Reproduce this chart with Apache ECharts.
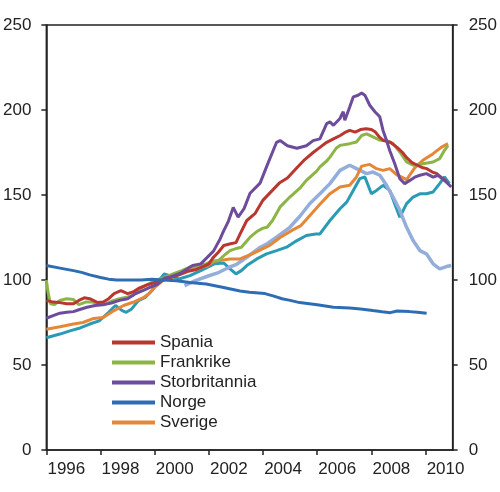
<!DOCTYPE html>
<html>
<head>
<meta charset="utf-8">
<script src="https://cdn.jsdelivr.net/npm/echarts@6/dist/echarts.min.js"></script>
<style>
html,body{margin:0;padding:0;background:#fff;}
#chart{width:500px;height:492px;}
</style>
</head>
<body>
<div id="chart"></div>
<script>
// Tick labels
const xTickYears = [1996, 1998, 2000, 2002, 2004, 2006, 2008, 2010];
const yTicks = [0, 50, 100, 150, 200, 250];

// Series names (legend)
const legendNames = ['Spania', 'Frankrike', 'Storbritannia', 'Norge', 'Sverige'];

// Series values as [year, index]
const spania = [[1996.0,88],[1996.25,87],[1996.5,86.7],[1996.75,86],[1997.0,86],[1997.2,88],[1997.4,89.5],[1997.6,89],[1997.9,86.7],[1998.1,87],[1998.3,89],[1998.5,92],[1998.75,93.7],[1999.0,92],[1999.2,93],[1999.4,95],[1999.7,97],[2000.0,98.5],[2000.3,100],[2000.6,101.5],[2000.9,103],[2001.2,105],[2001.5,106],[2001.8,108],[2002.0,109.5],[2002.15,113],[2002.35,116.3],[2002.55,120.3],[2002.8,121.3],[2003.0,122],[2003.15,127],[2003.4,135],[2003.7,139],[2004.0,147],[2004.3,152],[2004.6,157],[2004.9,160],[2005.25,166],[2005.55,171],[2005.85,175],[2006.1,178],[2006.35,181],[2006.6,183],[2006.85,185],[2007.05,187],[2007.2,188],[2007.4,187],[2007.6,188.5],[2007.8,189],[2008.0,188.5],[2008.15,187],[2008.3,184],[2008.45,182],[2008.7,181],[2008.95,178],[2009.15,175],[2009.3,172],[2009.5,169],[2009.7,167.5],[2009.9,166],[2010.05,165.5],[2010.25,163.5],[2010.4,162.7],[2010.6,160],[2010.75,158]];

const frankrike = [[1996.0,100],[1996.06,93],[1996.15,86],[1996.3,85.5],[1996.5,88],[1996.75,89],[1997.0,88.5],[1997.2,85.5],[1997.45,87],[1997.7,87],[1997.95,86],[1998.15,85.5],[1998.4,87.5],[1998.7,89],[1999.0,90],[1999.2,91],[1999.4,94.5],[1999.65,96.7],[2000.0,99.5],[2000.35,101.6],[2000.7,103.7],[2001.0,105.5],[2001.3,107.5],[2001.6,108.5],[2001.9,109.5],[2002.1,111],[2002.35,111.4],[2002.6,115],[2002.78,117.3],[2003.0,118.5],[2003.2,119.3],[2003.4,123],[2003.52,125.2],[2003.77,128.5],[2004.0,130.5],[2004.15,131],[2004.35,135],[2004.63,143],[2004.99,148.8],[2005.36,154],[2005.6,158.6],[2005.98,164],[2006.1,166.5],[2006.35,170],[2006.47,172.3],[2006.7,177.5],[2006.84,179.2],[2007.2,180.2],[2007.45,181.2],[2007.64,185],[2007.82,186],[2008.06,184.2],[2008.31,182.2],[2008.56,182],[2008.8,180.2],[2009.05,175.3],[2009.3,169.4],[2009.54,167.5],[2009.9,168.4],[2010.28,169.4],[2010.52,171.4],[2010.7,176.3],[2010.83,179.2]];

const storbritannia = [[1996.0,77.5],[1996.25,79],[1996.5,80.5],[1996.75,81],[1997.0,81.4],[1997.2,82.5],[1997.5,84],[1997.8,85],[1998.1,85.5],[1998.4,86.5],[1998.7,88],[1999.0,89],[1999.3,92],[1999.6,94],[1999.8,95.5],[2000.1,97.5],[2000.35,101],[2000.6,102],[2000.95,104],[2001.25,107],[2001.4,108.5],[2001.7,109.5],[2001.92,113],[2002.17,117],[2002.41,124],[2002.55,129],[2002.72,134.5],[2002.9,142.7],[2003.08,137],[2003.3,142],[2003.52,151],[2003.89,157],[2004.18,168.6],[2004.5,181],[2004.63,182],[2004.9,179],[2005.25,177.5],[2005.6,179],[2005.85,182],[2006.1,183],[2006.35,192],[2006.47,193],[2006.6,191],[2006.84,195],[2006.96,199],[2007.02,194],[2007.2,201.8],[2007.33,207.7],[2007.51,208.7],[2007.64,210],[2007.76,208.7],[2007.94,202.8],[2008.13,199],[2008.31,196],[2008.43,188],[2008.56,182],[2008.68,176],[2008.86,168.5],[2009.05,159.6],[2009.23,156.7],[2009.42,158.6],[2009.6,160.5],[2009.79,161.6],[2010.03,162.6],[2010.28,160.5],[2010.46,161.6],[2010.7,158.6],[2010.95,154.7]];

const norge = [[1996.0,108.5],[1996.5,107],[1997.0,105.5],[1997.3,104.5],[1997.6,103],[1998.0,101.5],[1998.3,100.5],[1998.6,100],[1999.0,100],[1999.5,100],[1999.9,100.5],[2000.3,100],[2000.8,99.5],[2001.3,98.5],[2001.9,97.6],[2002.5,95.7],[2003.15,93.5],[2003.5,92.8],[2004.07,92],[2004.4,90.5],[2004.7,89],[2005.0,88],[2005.35,86.7],[2006.0,85.5],[2006.6,84],[2007.2,83.5],[2007.6,83],[2008.05,82],[2008.4,81.3],[2008.7,80.8],[2008.95,81.8],[2009.4,81.4],[2009.7,81],[2010.04,80.5]];

const sverige = [[1996.0,71],[1996.5,72.5],[1997.0,74.1],[1997.35,75],[1997.75,77.4],[1998.1,78],[1998.3,80],[1998.5,82],[1998.85,85],[1999.2,86.9],[1999.6,89.8],[1999.8,92],[2000.0,95.7],[2000.3,99.6],[2000.7,102.6],[2001.05,104.5],[2001.4,106.5],[2001.9,108],[2002.2,111],[2002.78,112.4],[2003.15,112.4],[2003.6,115.4],[2004.0,118.5],[2004.26,120.5],[2004.63,125],[2005.1,129.5],[2005.4,132],[2005.73,138],[2006.1,144.5],[2006.47,150.8],[2006.84,154.7],[2007.2,155.7],[2007.45,160.6],[2007.64,167],[2007.94,168],[2008.19,165.5],[2008.43,164.5],[2008.68,165.5],[2008.93,162],[2009.3,159],[2009.6,166],[2009.9,170.4],[2010.28,174.3],[2010.59,178.2],[2010.83,180.2]];

const lysbla = [[2001.1,96.7],[2001.5,99.6],[2002.0,102.5],[2002.3,104],[2002.75,107.5],[2003.0,109],[2003.4,113.4],[2003.9,119.3],[2004.15,121.3],[2004.5,125.2],[2004.99,131],[2005.36,137.5],[2005.73,145],[2006.1,150.7],[2006.47,156.7],[2006.84,164.5],[2007.2,167.5],[2007.45,165.5],[2007.82,162.6],[2008.06,163.5],[2008.31,161.6],[2008.56,155.7],[2008.8,148.8],[2009.05,141],[2009.3,131],[2009.54,123.2],[2009.79,117.3],[2010.03,115.4],[2010.28,109.5],[2010.52,106.5],[2010.77,107.9],[2010.95,108.5]];

const turkis = [[1996.0,66],[1996.5,68.2],[1996.9,70.2],[1997.25,71.8],[1997.6,74.1],[1997.95,76],[1998.3,81],[1998.55,85],[1998.8,82],[1998.95,81],[1999.15,83],[1999.4,87.9],[1999.65,89.8],[1999.9,93.8],[2000.15,99.6],[2000.35,103.6],[2000.55,102.6],[2000.9,100.6],[2001.3,102.6],[2001.7,105.5],[2002.2,109.5],[2002.55,110],[2002.75,107],[2003.0,103.6],[2003.2,105.5],[2003.4,108.5],[2003.77,112.4],[2004.13,115.4],[2004.5,117.3],[2004.87,119.3],[2005.25,123.2],[2005.6,126.2],[2005.95,127],[2006.1,127.1],[2006.47,135],[2006.84,141.9],[2007.09,145.8],[2007.33,152.7],[2007.57,159.6],[2007.76,160.6],[2008.0,150.7],[2008.19,152.7],[2008.43,155.7],[2008.68,152.7],[2008.86,144.9],[2009.05,137],[2009.3,144.9],[2009.54,148.8],[2009.79,150.7],[2010.03,150.7],[2010.28,151.8],[2010.52,156.7],[2010.7,160.6],[2010.88,156.7]];

const FONT = 'Liberation Sans, Arial, sans-serif';
const AX = '#222';

function mk(name, data, color, w, z) {
  return {
    name: name, type: 'line', data: data, showSymbol: false, symbol: 'none',
    lineStyle: { color: color, width: w }, itemStyle: { color: color },
    z: z, silent: true
  };
}

const yAxisCommon = {
  type: 'value', min: 0, max: 250, interval: 50,
  axisLine: { show: true, lineStyle: { color: AX, width: 1.5 } },
  axisTick: { show: true, inside: false, length: 5, lineStyle: { color: AX, width: 1.5 } },
  axisLabel: { fontFamily: FONT, fontSize: 17, color: AX, margin: 15 },
  splitLine: { show: false }
};

const chart = echarts.init(document.getElementById('chart'), null, { renderer: 'canvas' });
chart.setOption({
  animation: false,
  backgroundColor: '#fff',
  grid: { left: 46, right: 47, top: 25, bottom: 42, show: true, borderColor: AX, borderWidth: 1.5, backgroundColor: 'transparent' },
  legend: {
    data: legendNames, orient: 'vertical', left: 107, top: 329,
    itemWidth: 43, itemHeight: 4, icon: 'rect', itemGap: 3,
    selectedMode: false,
    textStyle: { fontFamily: FONT, fontSize: 17, color: AX }
  },
  xAxis: {
    type: 'value', min: 1996, max: 2011,
    axisLine: { show: true, lineStyle: { color: AX, width: 1.5 } },
    axisTick: { show: true, inside: false, length: 5, customValues: xTickYears, lineStyle: { color: AX, width: 1.5 } },
    axisLabel: {
      customValues: xTickYears, fontFamily: FONT, fontSize: 17, color: AX, margin: 11,
      padding: [0, 0, 0, 40],
      formatter: function (v) { return String(Math.round(v)); }
    },
    splitLine: { show: false }
  },
  yAxis: [
    Object.assign({}, yAxisCommon, { position: 'left' }),
    Object.assign({}, yAxisCommon, { position: 'right', axisLabel: Object.assign({}, yAxisCommon.axisLabel, { margin: 16 }) })
  ],
  series: [
    mk('Serie T', turkis, '#2a9bb4', 3, 2),
    mk('Serie L', lysbla, '#93aedb', 3.5, 3),
    mk('Sverige', sverige, '#e68737', 3, 4),
    mk('Frankrike', frankrike, '#8cb446', 3, 5),
    mk('Spania', spania, '#b9372f', 3, 6),
    mk('Storbritannia', storbritannia, '#6d4c9b', 3, 7),
    mk('Norge', norge, '#2e6db4', 3, 8)
  ]
});
</script>
</body>
</html>
